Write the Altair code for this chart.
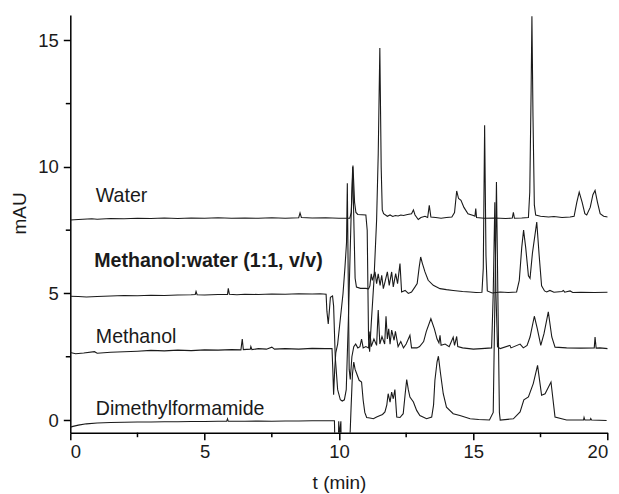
import altair as alt
import pandas as pd

# ---- retention time (min), absorbance (mAU) ----
water = [
    (0.0, 7.90), (0.3, 7.92), (0.8, 7.95), (1.0, 7.93), (1.5, 7.96), (2.0, 7.95), (2.5, 7.97),
    (3.0, 7.96), (3.5, 7.98), (4.0, 7.96), (4.5, 7.98), (5.0, 7.97), (5.5, 7.99), (6.0, 7.97),
    (6.5, 7.98), (7.0, 7.97), (7.5, 7.99), (8.0, 7.97), (8.5, 7.99), (8.55, 8.18), (8.6, 8.00),
    (9.0, 7.98), (9.5, 7.99), (10.0, 7.97), (10.4, 7.97), (10.46, 8.2), (10.52, 10.05),
    (10.58, 8.6), (10.63, 8.2), (10.7, 8.12), (11.0, 8.1), (11.05, 7.5), (11.1, 3.2),
    (11.14, 2.7), (11.2, 3.8), (11.3, 5.5), (11.4, 7.9), (11.46, 10.5), (11.52, 14.7),
    (11.57, 10.0), (11.61, 8.3), (11.66, 8.15), (11.8, 8.05), (11.9, 8.1), (12.0, 8.04),
    (12.1, 8.08), (12.2, 8.06), (12.3, 8.1), (12.4, 8.08), (12.55, 8.12), (12.7, 8.15),
    (12.77, 8.3), (12.83, 8.1), (12.95, 7.92), (13.05, 8.0), (13.2, 8.05), (13.3, 8.0),
    (13.36, 8.48), (13.42, 8.02), (13.6, 8.0), (13.8, 7.97), (14.0, 8.0), (14.2, 8.02),
    (14.3, 8.2), (14.38, 9.05), (14.45, 8.75), (14.54, 8.68), (14.65, 8.4), (14.8, 8.15),
    (15.0, 8.08), (15.06, 8.05), (15.09, 8.35), (15.12, 8.0), (15.4, 7.97), (15.8, 7.98),
    (16.2, 7.96), (16.45, 7.98), (16.49, 8.2), (16.53, 7.97), (16.8, 7.98), (17.05, 8.0),
    (17.1, 9.0), (17.15, 13.0), (17.18, 15.95), (17.22, 12.0), (17.27, 8.5), (17.32, 8.1),
    (17.5, 8.05), (17.8, 8.02), (18.0, 8.04), (18.3, 8.0), (18.6, 8.02), (18.75, 8.05),
    (18.85, 8.6), (18.94, 9.0), (19.05, 8.6), (19.15, 8.15), (19.22, 8.1), (19.35, 8.4),
    (19.45, 8.9), (19.53, 9.07), (19.62, 8.6), (19.72, 8.15), (19.85, 8.05), (20.0, 8.02),
]

methanol_water = [
    (0.0, 4.89), (0.3, 4.88), (0.6, 4.86), (1.0, 4.88), (1.5, 4.9), (2.0, 4.92), (2.5, 4.91),
    (3.0, 4.93), (3.5, 4.92), (4.0, 4.94), (4.5, 4.95), (4.65, 4.96), (4.68, 5.08), (4.72, 4.95),
    (5.0, 4.94), (5.5, 4.96), (5.85, 4.96), (5.88, 5.2), (5.92, 4.97), (6.2, 4.95), (6.5, 4.97),
    (7.0, 4.96), (7.5, 4.98), (8.0, 4.97), (8.5, 4.99), (9.0, 4.98), (9.3, 4.99), (9.52, 4.97),
    (9.55, 4.3), (9.6, 3.8), (9.64, 4.3), (9.68, 4.85), (9.76, 4.9), (9.8, 4.5), (9.86, 2.5),
    (9.95, 1.2), (10.05, 0.8), (10.12, 0.75), (10.2, 0.8), (10.27, 1.2), (10.35, 4.0),
    (10.45, 8.0), (10.51, 10.0), (10.56, 7.5), (10.6, 5.6), (10.65, 5.25), (10.8, 5.2),
    (11.0, 5.2), (11.1, 5.18), (11.15, 5.3), (11.2, 5.78), (11.24, 5.52), (11.34, 5.85),
    (11.4, 5.39), (11.46, 5.78), (11.53, 5.32), (11.59, 5.72), (11.65, 5.19), (11.71, 5.45),
    (11.8, 5.85), (11.87, 5.32), (11.96, 5.85), (12.02, 5.26), (12.11, 5.78), (12.18, 5.39),
    (12.27, 6.18), (12.33, 5.06), (12.46, 5.12), (12.58, 5.0), (12.7, 5.06), (12.83, 5.26),
    (12.91, 5.39), (12.98, 6.0), (13.04, 6.44), (13.1, 6.2), (13.2, 5.85), (13.32, 5.52),
    (13.51, 5.32), (13.76, 5.19), (14.0, 5.15), (14.25, 5.12), (14.6, 5.08), (14.88, 5.06),
    (15.1, 5.04), (15.32, 5.05), (15.37, 6.0), (15.42, 11.64), (15.47, 6.5), (15.52, 5.1),
    (15.7, 5.02), (16.0, 5.06), (16.3, 5.04), (16.61, 5.06), (16.71, 5.52), (16.8, 6.8),
    (16.87, 7.5), (16.95, 6.8), (17.05, 5.7), (17.11, 5.6), (17.2, 6.6), (17.36, 7.82),
    (17.45, 6.5), (17.54, 5.3), (17.65, 5.1), (17.73, 5.06), (17.85, 5.12), (18.0, 5.05),
    (18.3, 5.08), (18.35, 5.12), (18.4, 5.05), (18.6, 5.1), (18.7, 5.04), (19.0, 5.05),
    (19.5, 5.04), (20.0, 5.05),
]

methanol = [
    (0.0, 2.67), (0.2, 2.62), (0.5, 2.65), (0.9, 2.7), (1.0, 2.64), (1.5, 2.68), (2.0, 2.7),
    (2.5, 2.72), (3.0, 2.75), (3.5, 2.73), (4.0, 2.76), (4.5, 2.74), (5.0, 2.77), (5.5, 2.76),
    (6.0, 2.78), (6.35, 2.77), (6.4, 3.2), (6.44, 2.78), (6.7, 2.8), (6.72, 2.9), (6.76, 2.78),
    (7.0, 2.82), (7.3, 2.8), (7.5, 2.88), (7.6, 2.8), (8.0, 2.82), (8.5, 2.8), (9.0, 2.83),
    (9.5, 2.82), (9.74, 2.82), (9.77, 2.0), (9.8, 1.0), (9.84, 2.0), (9.88, 2.65), (9.95, 3.0),
    (10.05, 4.0), (10.15, 5.0), (10.22, 6.0), (10.28, 7.0), (10.31, 9.35), (10.34, 6.0),
    (10.38, 2.0), (10.42, 1.6), (10.48, 2.5), (10.55, 2.9), (10.62, 3.0), (10.7, 2.85),
    (10.78, 2.9), (10.84, 3.2), (10.9, 2.85), (11.0, 2.9), (11.1, 2.85), (11.15, 3.5),
    (11.2, 2.9), (11.3, 3.2), (11.4, 2.95), (11.46, 4.35), (11.52, 3.0), (11.6, 3.3),
    (11.7, 3.0), (11.75, 4.1), (11.8, 3.2), (11.85, 3.6), (11.9, 3.0), (11.96, 3.55),
    (12.05, 3.15), (12.1, 3.5), (12.2, 2.9), (12.3, 3.1), (12.4, 2.85), (12.5, 3.0),
    (12.64, 3.35), (12.7, 2.85), (12.9, 2.85), (13.0, 2.9), (13.15, 3.1), (13.25, 3.5),
    (13.42, 4.0), (13.55, 3.6), (13.65, 3.2), (13.72, 3.05), (13.76, 3.35), (13.8, 2.95),
    (13.95, 3.0), (14.1, 2.9), (14.25, 3.27), (14.3, 2.95), (14.38, 3.3), (14.42, 2.9),
    (14.6, 2.85), (15.0, 2.8), (15.3, 2.82), (15.68, 2.85), (15.74, 5.0), (15.8, 8.6),
    (15.84, 5.0), (15.9, 2.9), (16.0, 2.82), (16.36, 2.95), (16.4, 2.85), (16.74, 3.0),
    (16.86, 2.85), (17.0, 2.95), (17.11, 3.28), (17.27, 4.1), (17.38, 3.61), (17.51, 2.95),
    (17.63, 3.41), (17.79, 4.27), (17.92, 3.28), (18.04, 2.88), (18.47, 2.85), (19.0, 2.84),
    (19.5, 2.85), (19.53, 3.28), (19.57, 2.84), (19.71, 2.85), (20.0, 2.82),
]

dmf = [
    (0.0, -0.28), (0.1, -0.25), (0.3, -0.2), (0.6, -0.15), (1.0, -0.12), (1.5, -0.1),
    (2.0, -0.09), (2.5, -0.08), (3.0, -0.08), (3.5, -0.07), (4.0, -0.07), (4.5, -0.06),
    (5.0, -0.06), (5.5, -0.05), (5.82, -0.05), (5.85, 0.05), (5.88, -0.05), (6.5, -0.05),
    (7.0, -0.04), (7.5, -0.05), (8.0, -0.04), (8.5, -0.04), (9.0, -0.03), (9.5, -0.03),
    (9.83, -0.03), (9.86, -1.5), (9.97, -1.5), (9.99, -0.05), (10.02, -0.6), (10.07, -0.05),
    (10.09, -1.5), (10.38, -1.5), (10.45, 0.5), (10.5, 1.8), (10.55, 2.29), (10.6, 2.0),
    (10.66, 1.83), (10.75, 1.57), (10.84, 1.5), (10.9, 0.78), (10.96, 0.3), (11.03, 0.1),
    (11.15, 0.08), (11.28, 0.05), (11.4, 0.12), (11.53, 0.18), (11.62, 0.22), (11.71, 0.32),
    (11.78, 0.6), (11.83, 1.04), (11.9, 0.71), (11.96, 1.1), (12.02, 0.84), (12.08, 1.2),
    (12.15, 0.12), (12.27, 0.1), (12.39, 0.25), (12.46, 1.0), (12.52, 1.6), (12.58, 1.2),
    (12.64, 0.91), (12.77, 0.71), (12.89, 0.38), (13.01, 0.18), (13.26, 0.05), (13.45, 0.12),
    (13.52, 0.6), (13.57, 1.57), (13.65, 2.3), (13.7, 2.52), (13.78, 1.83), (13.88, 1.04),
    (14.0, 0.51), (14.25, 0.25), (14.5, 0.18), (14.88, 0.05), (15.2, 0.02), (15.6, 0.0),
    (15.74, 0.3), (15.82, 6.0), (15.86, 9.4), (15.9, 6.0), (15.97, 0.3), (16.0, 0.0),
    (16.49, 0.05), (16.74, 0.32), (16.88, 0.8), (17.05, 0.91), (17.23, 1.44), (17.39, 2.16),
    (17.54, 0.98), (17.67, 1.04), (17.89, 1.5), (18.04, 0.12), (18.47, 0.0), (19.1, 0.0),
    (19.12, 0.1), (19.15, 0.0), (19.35, 0.0), (19.37, 0.06), (19.4, 0.0), (19.96, -0.02),
]

trace_names = ["Water", "Methanol:water (1:1, v/v)", "Methanol", "Dimethylformamide"]
traces = [water, methanol_water, methanol, dmf]

# label anchor positions (t, mAU) and weights
label_t = [0.95, 0.89, 0.95, 0.95]
label_y = [8.6, 6.05, 3.04, 0.19]
label_bold = [False, True, False, False]

x_major = [0, 5, 10, 15, 20]
x_minor = [2.5, 7.5, 12.5, 17.5]
y_major = [0, 5, 10, 15]
y_minor = [2.5, 7.5, 12.5]

# ---- build tables ----
rows = []
for name, tr in zip(trace_names, traces):
    for i, (t, v) in enumerate(tr):
        rows.append({"trace": name, "i": i, "t": t, "mAU": v})
df = pd.DataFrame(rows)

lab = pd.DataFrame({"t": label_t, "mAU": label_y, "text": trace_names, "bold": label_bold})

W, H = 537.4, 417.7
FONT = "Liberation Sans"
INK = "#1a1a1a"

xscale = alt.Scale(domain=[0, 20], nice=False, zero=False)
yscale = alt.Scale(domain=[-0.5, 16], nice=False, zero=False)

lines = alt.Chart(df).mark_line(clip=True, strokeWidth=1.1, color=INK).encode(
    x=alt.X("t:Q", scale=xscale,
            axis=alt.Axis(values=x_major, title="t (min)", tickSize=7, labelPadding=3,
                          titlePadding=12, format="d")),
    y=alt.Y("mAU:Q", scale=yscale,
            axis=alt.Axis(values=y_major, title="mAU", tickSize=7, labelPadding=5,
                          titleX=-51, titleY=198, titleAlign="center",
                          titleBaseline="middle", titleAngle=270, format="d")),
    detail="trace:N",
    order="i:Q",
)

txt_normal = alt.Chart(lab).transform_filter("!datum.bold").mark_text(
    align="left", baseline="alphabetic", font=FONT, fontSize=19.6, color=INK
).encode(x="t:Q", y="mAU:Q", text="text:N")

txt_bold = alt.Chart(lab).transform_filter("datum.bold").mark_text(
    align="left", baseline="alphabetic", font=FONT, fontSize=19.6, fontWeight="bold", color=INK
).encode(x="t:Q", y="mAU:Q", text="text:N")

xminor = alt.Chart(pd.DataFrame({"t": x_minor})).mark_rule(color="black", strokeWidth=1.5).encode(
    x="t:Q", y=alt.value(H), y2=alt.value(H + 4.5)
)
yminor = alt.Chart(pd.DataFrame({"mAU": y_minor})).mark_rule(color="black", strokeWidth=1.5).encode(
    y="mAU:Q", x=alt.value(0), x2=alt.value(-4.5)
)

chart = alt.layer(lines, txt_normal, txt_bold, xminor, yminor).properties(
    width=W, height=H,
    autosize=alt.AutoSizeParams(type="none"),
    padding={"left": 62.3, "top": 7, "right": 3, "bottom": 60},
).configure_view(stroke=None).configure_axis(
    grid=False, domainColor="black", domainWidth=1.5, tickColor="black", tickWidth=1.5,
    labelFont=FONT, labelFontSize=18.5, labelColor=INK,
    titleFont=FONT, titleFontSize=19, titleFontWeight="normal", titleColor=INK,
)

chart.save("out.html", embed_options={"renderer": "svg", "actions": False})
